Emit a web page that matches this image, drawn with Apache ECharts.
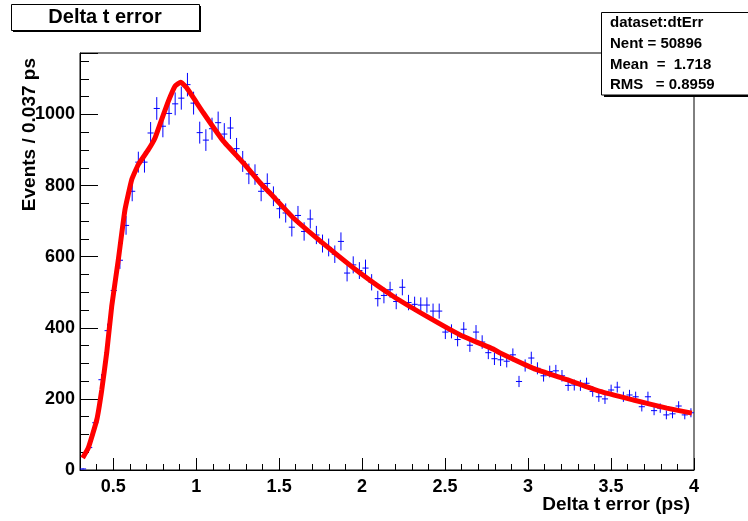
<!DOCTYPE html>
<html><head><meta charset="utf-8">
<script src="https://cdn.jsdelivr.net/npm/echarts@6/dist/echarts.min.js"></script>
<style>html,body{margin:0;padding:0;background:#fff}#c{width:748px;height:521px}</style>
</head><body><div id="c"></div>
<script>
// Histogram: 100 bins from 0.3 to 4.0 ps (bin width 0.037)
const binLow = 0.3;
const binWidth = 0.037;
const counts = [
  3, 63, 133, 254, 392, 505, 590, 688, 784, 866,
  866, 948, 1017, 967, 1003, 1030, 1046, 1084, 1032, 949,
  928, 960, 977, 945, 962, 904, 868, 833, 831, 784,
  806, 770, 735, 723, 683, 716, 671, 706, 661, 637,
  626, 607, 643, 554, 577, 561, 568, 528, 482, 491,
  507, 474, 514, 471, 466, 464, 464, 447, 447, 388,
  390, 367, 396, 351, 388, 360, 330, 313, 310, 306,
  324, 249, 294, 315, 286, 265, 277, 279, 265, 238,
  239, 238, 244, 221, 206, 200, 225, 233, 206, 211,
  206, 178, 206, 167, 174, 155, 158, 180, 155, 161
];
// Fit curve
const fitX = [0.316, 0.350, 0.401, 0.431, 0.461, 0.491, 0.531, 0.571, 0.612, 0.651, 0.712, 0.752, 0.792, 0.832, 0.873, 0.907, 0.943, 1.043, 1.164, 1.284, 1.385, 1.445, 1.586, 1.787, 1.988, 2.189, 2.390, 2.591, 2.791, 2.832, 3.032, 3.234, 3.434, 3.635, 3.836, 3.987];
const fitY = [34, 62, 141, 225, 330, 460, 592, 732, 817, 859, 901, 934, 986, 1037, 1080, 1091, 1075, 1005, 925, 864, 808, 779, 709, 629, 554, 488, 432, 380, 340, 329, 286, 254, 221, 197, 174, 160];
// Axis ticks
const xMajorTicks = [0.5, 1, 1.5, 2, 2.5, 3, 3.5, 4];
const yMajorTicks = [0, 200, 400, 600, 800, 1000];
const titleText = 'Delta t error';
const xTitle = 'Delta t error (ps)';
const yTitle = 'Events / 0.037 ps';
const statLines = ['dataset:dtErr', 'Nent = 50896', 'Mean  =  1.718', 'RMS   = 0.8959'];

const FONT = '"Liberation Sans", Arial, Helvetica, sans-serif';
const histData = counts.map((n, i) => [binLow + binWidth * (i + 0.5), n]);
const fitData = fitX.map((x, i) => [x, fitY[i]]);
const isMult = (v, m) => Math.abs(v / m - Math.round(v / m)) < 1e-6;

const chart = echarts.init(document.getElementById('c'), null, {renderer: 'canvas'});
const statY = [23, 43.5, 64.5, 85];
const graphics = [
  {type: 'rect', shape: {x: 13, y: 6, width: 188, height: 26}, style: {fill: '#000'}, z: 100},
  {type: 'rect', shape: {x: 11.5, y: 4.5, width: 188, height: 26}, style: {fill: '#fff', stroke: '#000', lineWidth: 1}, z: 101},
  {type: 'text', x: 105, y: 17.5, z: 102, style: {text: titleText, font: 'bold 20px ' + FONT, align: 'center', verticalAlign: 'middle', fill: '#000'}},
  {type: 'rect', shape: {x: 604, y: 14, width: 160, height: 83}, style: {fill: '#000'}, z: 100},
  {type: 'rect', shape: {x: 601.5, y: 12.5, width: 160, height: 82.5}, style: {fill: '#fff', stroke: '#000', lineWidth: 1}, z: 101},
  {type: 'text', x: 690, y: 505, z: 102, style: {text: xTitle, font: 'bold 19px ' + FONT, align: 'right', verticalAlign: 'middle', fill: '#000'}},
  {type: 'text', x: 30, y: 58, rotation: Math.PI / 2, z: 102, style: {text: yTitle, font: 'bold 19px ' + FONT, align: 'right', verticalAlign: 'middle', fill: '#000'}}
];
statLines.forEach((t, i) => graphics.push({type: 'text', x: 610, y: statY[i], z: 102,
  style: {text: t, font: 'bold 15px ' + FONT, align: 'left', verticalAlign: 'middle', fill: '#000'}}));

const option = {
  animation: false,
  backgroundColor: '#fff',
  grid: {left: 80, right: 54, top: 53, bottom: 51, show: true, borderColor: '#000', borderWidth: 1, backgroundColor: 'transparent'},
  xAxis: [
    {type: 'value', min: 0.3, max: 4.0, interval: 0.1, position: 'bottom',
      axisLine: {show: true, onZero: false, lineStyle: {color: '#000', width: 1}},
      axisTick: {show: true, inside: true, length: 6, lineStyle: {color: '#000', width: 1}},
      axisLabel: {show: true, margin: 8, color: '#000', fontFamily: FONT, fontWeight: 'bold', fontSize: 18,
        formatter: v => (xMajorTicks.some(t => Math.abs(t - v) < 1e-6) ? String(+v.toFixed(1)) : '')},
      splitLine: {show: false}},
    {type: 'value', min: 0.3, max: 4.0, position: 'bottom',
      axisLine: {show: false, onZero: false},
      axisTick: {show: true, inside: true, length: 12, customValues: xMajorTicks, lineStyle: {color: '#000', width: 1}},
      axisLabel: {show: false}, splitLine: {show: false}}
  ],
  yAxis: [
    {type: 'value', min: 0, max: 1173, interval: 50, position: 'left',
      axisLine: {show: true, onZero: false, lineStyle: {color: '#000', width: 1}},
      axisTick: {show: true, inside: true, length: 9, lineStyle: {color: '#000', width: 1}},
      axisLabel: {show: true, margin: 5, color: '#000', fontFamily: FONT, fontWeight: 'bold', fontSize: 18,
        formatter: v => (yMajorTicks.indexOf(Math.round(v)) >= 0 && isMult(v, 200) ? String(Math.round(v)) : '')},
      splitLine: {show: false}},
    {type: 'value', min: 0, max: 1173, interval: 200, position: 'left', offset: 0,
      axisLine: {show: false, onZero: false},
      axisTick: {show: true, inside: true, length: 18, lineStyle: {color: '#000', width: 1}},
      axisLabel: {show: false}, splitLine: {show: false}}
  ],
  graphic: graphics,
  series: [
    {type: 'custom', xAxisIndex: 0, yAxisIndex: 0, data: histData, z: 2,
      renderItem: (params, api) => {
        const x = api.value(0), n = api.value(1), e = Math.sqrt(n);
        const l = api.coord([x - binWidth / 2, n]);
        const r = api.coord([x + binWidth / 2, n]);
        const t = api.coord([x, n + e]);
        const b = api.coord([x, Math.max(0, n - e)]);
        const st = {stroke: '#0000ff', lineWidth: 1};
        return {type: 'group', children: [
          {type: 'line', shape: {x1: l[0], y1: l[1], x2: r[0], y2: r[1]}, style: st},
          {type: 'line', shape: {x1: t[0], y1: t[1], x2: b[0], y2: b[1]}, style: st}
        ]};
      }},
    {type: 'line', xAxisIndex: 0, yAxisIndex: 0, data: fitData, showSymbol: false, symbol: 'none', smooth: 0.12, z: 3,
      lineStyle: {color: '#ff0000', width: 5}}
  ]
};
chart.setOption(option);
</script>
</body></html>
